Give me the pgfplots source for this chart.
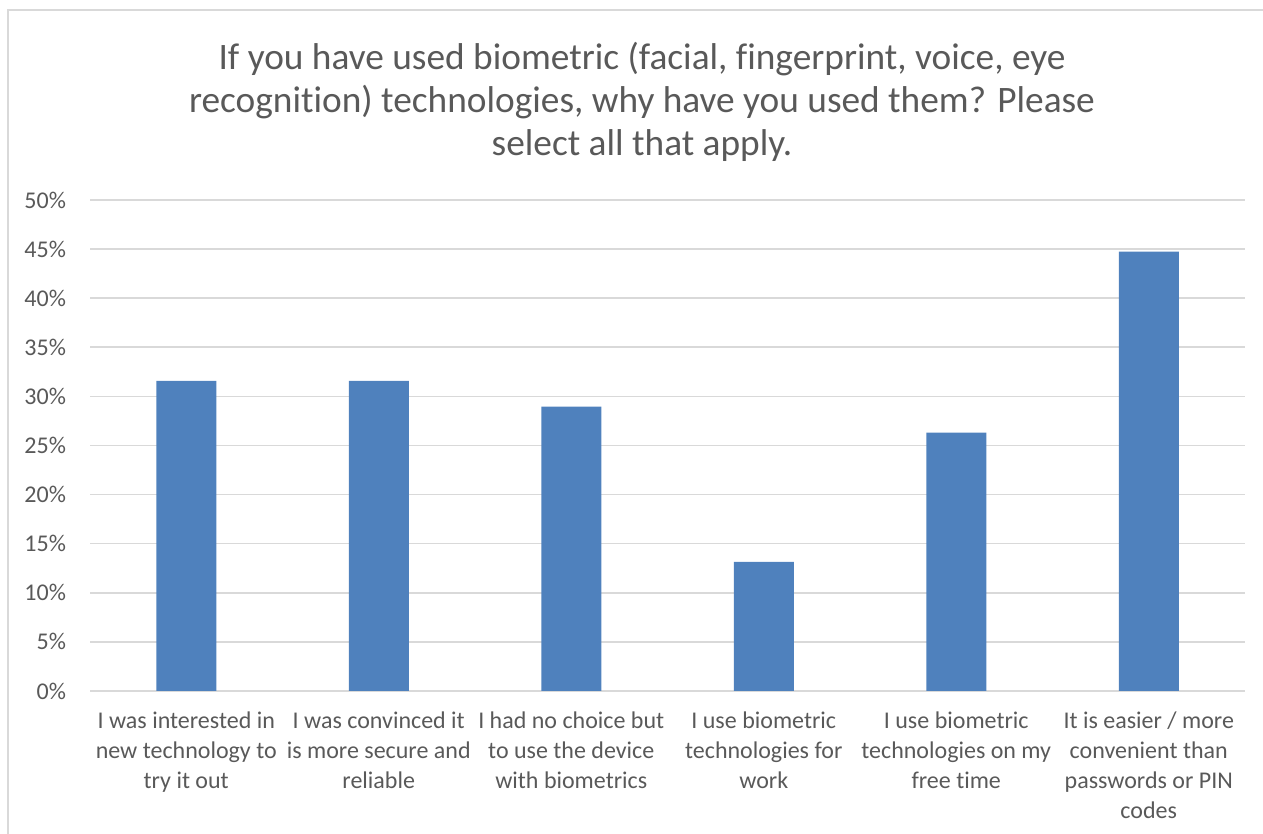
\documentclass[border=0pt]{standalone}
\usepackage{pgfplots}
\pgfplotsset{compat=1.18}
\usepackage{fontspec}
\setmainfont{Carlito}[Ligatures=NoCommon]
\definecolor{barblue}{HTML}{4F81BD}
\definecolor{txtgray}{HTML}{595959}
\definecolor{gridgray}{HTML}{D9D9D9}
\begin{document}
\begin{tikzpicture}[x=0.75pt,y=0.75pt]
\useasboundingbox (0,0) rectangle (1263,834);
% chart frame
\draw[gridgray, line width=1.2pt] (8,-5) -- (8,824) -- (1270,824);
% title
\node[text=txtgray, font=\fontsize{28}{32.5}\selectfont, align=center, anchor=center]
  at (642,732) {If you have used biometric (facial, fingerprint, voice, eye\\recognition) technologies, why have you used them? Please\\select all that apply.};
\begin{axis}[
  at={(67.5pt,107.25pt)}, anchor=south west,
  scale only axis,
  width=866.25pt, height=368.25pt,
  ymin=0, ymax=50,
  xmin=-0.5, xmax=5.5,
  ytick={0,5,...,50},
  yticklabel={\pgfmathprintnumber{\tick}\%},
  xtick=data,
  xticklabels={{I was interested in\\new technology to\\try it out},
               {I was convinced it\\is more secure and\\reliable},
               {I had no choice but\\to use the device\\with biometrics},
               {I use biometric\\technologies for\\work},
               {I use biometric\\technologies on my\\free time},
               {It is easier / more\\convenient than\\passwords or PIN\\codes}},
  xticklabel style={align=center, text=txtgray, font=\fontsize{18}{22.5}\selectfont, yshift=-12pt},
  yticklabel style={text=txtgray, font=\fontsize{18}{22}\selectfont, xshift=-14.5pt},
  /pgf/number format/assume math mode=true,
  major tick length=0pt,
  axis line style={draw=none},
  ymajorgrids,
  grid style={gridgray, line width=1.2pt},
  ybar, bar width=45pt,
]
\addplot[fill=barblue, draw=none] coordinates {
  (0,31.58) (1,31.58) (2,28.95) (3,13.16) (4,26.32) (5,44.74)
};
\end{axis}
\end{tikzpicture}
\end{document}
